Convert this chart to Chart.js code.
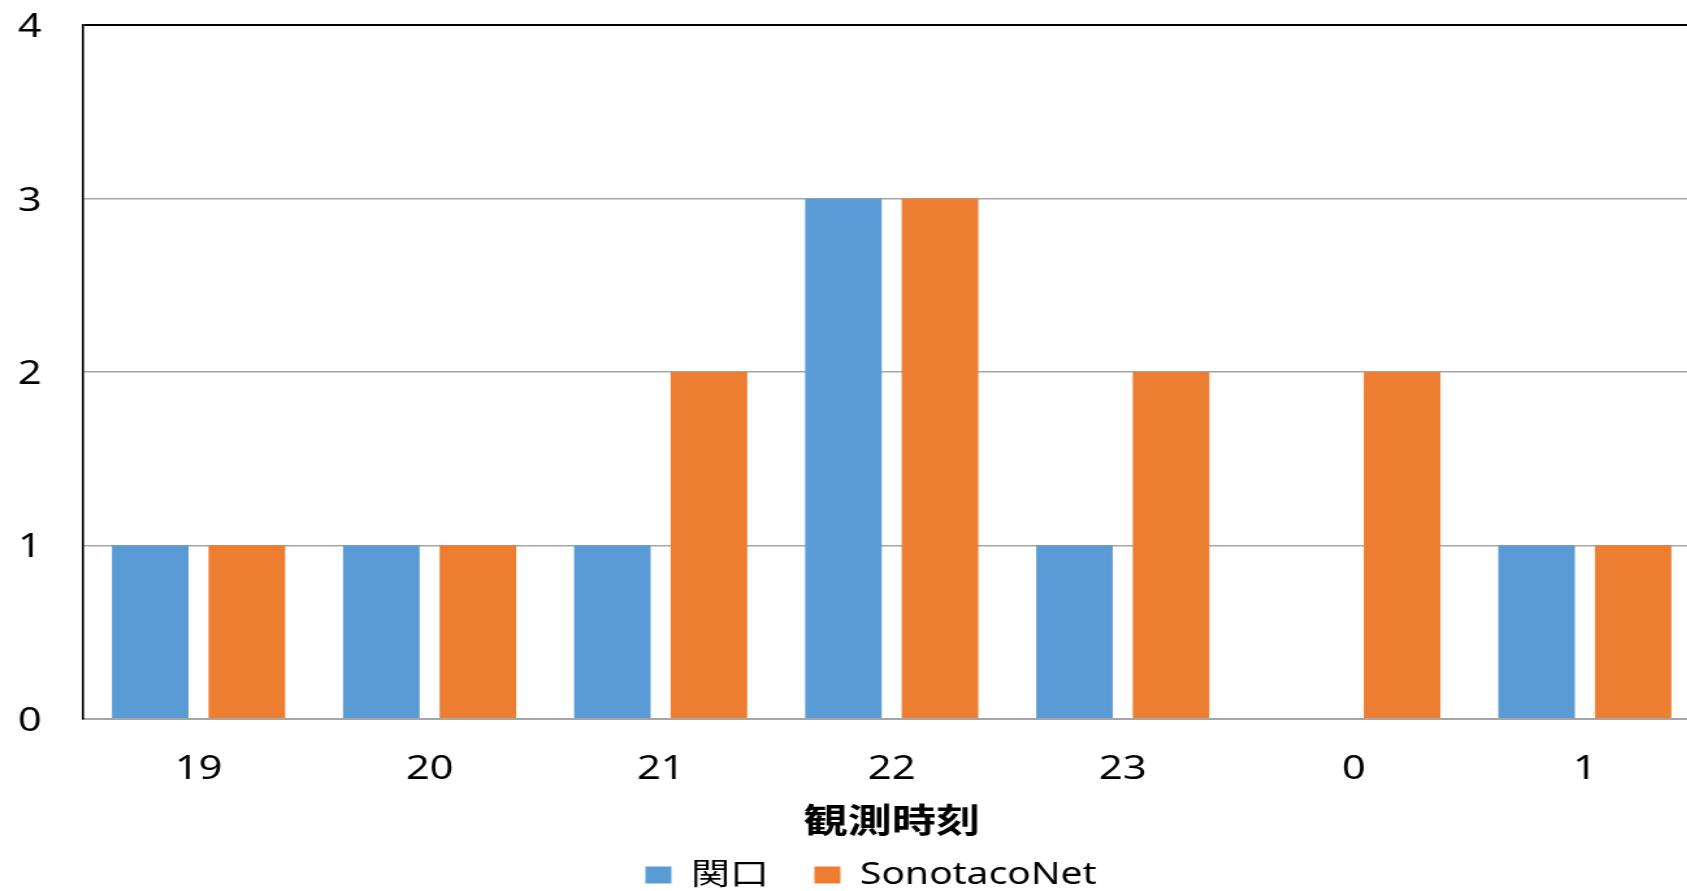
<!DOCTYPE html>
<html lang="ja">
<head>
<meta charset="utf-8">
<title>観測時刻</title>
<script src="https://cdn.jsdelivr.net/npm/chart.js@4/dist/chart.umd.min.js"></script>
<style>
  html, body { margin: 0; padding: 0; background: #fff; overflow: hidden; }
  #wrap { width: 1308px; height: 891px; transform: scaleX(1.3); transform-origin: 0 0; }
  canvas { display: block; }
</style>
</head>
<body>
<div id="wrap"><canvas id="chart" width="1308" height="891"></canvas></div>
<script>
// Observation hour (JST) on the x axis
const hours = ['19', '20', '21', '22', '23', '0', '1'];
// Meteor counts per hour
const sekiguchi = [1, 1, 1, 3, 1, 0, 1];
const sonotacoNet = [1, 1, 2, 3, 2, 2, 1];
// Y-axis tick values
const yTicks = [0, 1, 2, 3, 4];

const LATIN = "'Noto Sans', 'Noto Sans CJK JP', sans-serif";
const CJK = "'Noto Sans CJK JP', 'Noto Sans', sans-serif";

new Chart(document.getElementById('chart'), {
  type: 'bar',
  data: {
    labels: hours,
    datasets: [
      { label: '関口', data: sekiguchi, backgroundColor: '#5B9BD5' },
      { label: 'SonotacoNet', data: sonotacoNet, backgroundColor: '#ED7D31' }
    ]
  },
  options: {
    responsive: false,
    animation: false,
    devicePixelRatio: 1,
    categoryPercentage: 0.836,
    barPercentage: 0.793,
    layout: { padding: { left: 32, right: 0, top: 25, bottom: -9 } },
    plugins: {
      tooltip: { enabled: false },
      legend: {
        position: 'bottom',
        labels: {
          boxWidth: 20,
          boxHeight: 17,
          padding: 35,
          color: '#000',
          font: { family: LATIN, size: 30 }
        }
      }
    },
    scales: {
      x: {
        grid: { display: false, drawTicks: false },
        border: { display: true, color: '#A6A6A6', width: 2 },
        ticks: { color: '#000', padding: 32, font: { family: LATIN, size: 32 } },
        title: {
          display: true,
          text: '観測時刻',
          color: '#000',
          font: { family: CJK, size: 34, weight: 'bold' },
          padding: { top: -22, bottom: -15 }
        }
      },
      y: {
        min: 0,
        max: 4,
        afterBuildTicks: (scale) => { scale.ticks = yTicks.map(v => ({ value: v })); },
        afterFit: (scale) => { scale.width = 31.85; },
        grid: {
          drawTicks: false,
          color: (ctx) => (ctx.tick && ctx.tick.value === 4 ? '#000' : '#A6A6A6'),
          lineWidth: (ctx) => (ctx.tick && ctx.tick.value === 4 ? 2 : 1.5)
        },
        border: { display: true, color: '#000', width: 1.6 },
        // labels sit left of the axis box, so they are placed as mirrored
        // labels with a negative offset (mirrored labels are not clipped)
        ticks: { color: '#000', mirror: true, padding: -50, labelOffset: 3, font: { family: LATIN, size: 32 } }
      }
    }
  }
});
</script>
</body>
</html>
